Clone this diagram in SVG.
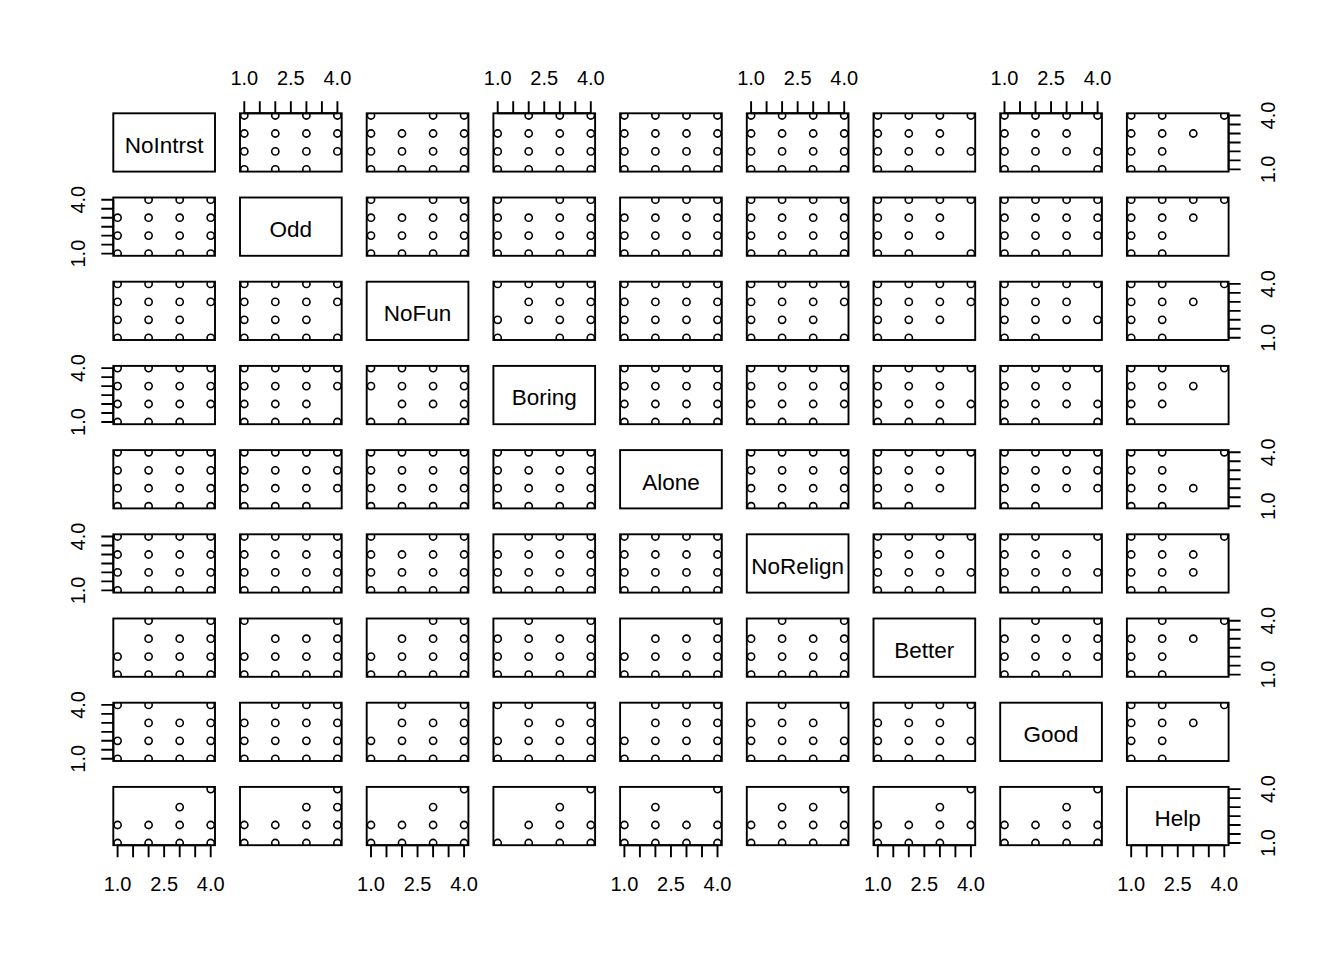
<svg xmlns="http://www.w3.org/2000/svg" xmlns:xlink="http://www.w3.org/1999/xlink" width="1344" height="960" viewBox="0 0 1344 960">
<style>
circle{fill:none;stroke:#000;stroke-width:1.6}
.b{fill:none;stroke:#000;stroke-width:1.9}
.t{fill:none;stroke:#000;stroke-width:1.9}
text{font-family:"Liberation Sans",Arial,sans-serif;fill:#000}
.ax{font-size:20px;text-anchor:middle}
.lb{font-size:22.5px;text-anchor:middle}
</style>
<defs>
<clipPath id="cl"><rect width="101.7" height="58.3"/></clipPath>
<g id="a1111"><circle cx="4.3" r="3.6"/><circle cx="35.3" r="3.6"/><circle cx="66.4" r="3.6"/><circle cx="97.4" r="3.6"/></g>
<g id="a1110"><circle cx="4.3" r="3.6"/><circle cx="35.3" r="3.6"/><circle cx="66.4" r="3.6"/></g>
<g id="a1101"><circle cx="4.3" r="3.6"/><circle cx="35.3" r="3.6"/><circle cx="97.4" r="3.6"/></g>
<g id="a1100"><circle cx="4.3" r="3.6"/><circle cx="35.3" r="3.6"/></g>
<g id="a1011"><circle cx="4.3" r="3.6"/><circle cx="66.4" r="3.6"/><circle cx="97.4" r="3.6"/></g>
<g id="a0111"><circle cx="35.3" r="3.6"/><circle cx="66.4" r="3.6"/><circle cx="97.4" r="3.6"/></g>
<g id="a1000"><circle cx="4.3" r="3.6"/></g>
<g id="a0101"><circle cx="35.3" r="3.6"/><circle cx="97.4" r="3.6"/></g>
<g id="a0001"><circle cx="97.4" r="3.6"/></g>
<g id="a0010"><circle cx="66.4" r="3.6"/></g>
<g id="a0011"><circle cx="66.4" r="3.6"/><circle cx="97.4" r="3.6"/></g>
<g id="a0110"><circle cx="35.3" r="3.6"/><circle cx="66.4" r="3.6"/></g>
<g id="a0100"><circle cx="35.3" r="3.6"/></g>
<g id="a1001"><circle cx="4.3" r="3.6"/><circle cx="97.4" r="3.6"/></g>
<g id="f"><use href="#a1111" y="2.2"/><use href="#a1111" y="20.2"/><use href="#a1111" y="38.1"/><use href="#a1111" y="56.1"/></g>
<path id="tt" class="t" d="M4.3 0H97.4M4.3 0v-12M19.8 0v-12M35.3 0v-12M50.85 0v-12M66.4 0v-12M81.9 0v-12M97.4 0v-12"/>
<path id="tb" class="t" d="M4.3 0H97.4M4.3 0v12M19.8 0v12M35.3 0v12M50.85 0v12M66.4 0v12M81.9 0v12M97.4 0v12"/>
<path id="tl" class="t" d="M0 2.2V56.1M0 2.2h-12M0 11.2h-12M0 20.2h-12M0 29.2h-12M0 38.1h-12M0 47.1h-12M0 56.1h-12"/>
<path id="tr" class="t" d="M0 2.2V56.1M0 2.2h12M0 11.2h12M0 20.2h12M0 29.2h12M0 38.1h12M0 47.1h12M0 56.1h12"/>
</defs>
<rect width="1344" height="960" fill="#fff"/>

<!-- Row 1 -->
<g id="d1" transform="translate(113.3 113.3)"><rect class="b" width="101.7" height="58.3"/><text class="lb" x="50.85" y="39.5">NoIntrst</text></g>
<g id="p12" transform="translate(240 113.3)"><g clip-path="url(#cl)"><use href="#a1111" y="2.2"/><use href="#a1111" y="20.2"/><use href="#a1111" y="38.1"/><use href="#a1110" y="56.1"/></g><rect class="b" width="101.7" height="58.3"/></g>
<g id="p13" transform="translate(366.7 113.3)"><g clip-path="url(#cl)"><use href="#a1011" y="2.2"/><use href="#a1111" y="20.2"/><use href="#a1111" y="38.1"/><use href="#a1111" y="56.1"/></g><rect class="b" width="101.7" height="58.3"/></g>
<g id="p14" transform="translate(493.4 113.3)"><g clip-path="url(#cl)"><use href="#a0111" y="2.2"/><use href="#a1111" y="20.2"/><use href="#a1111" y="38.1"/><use href="#a1111" y="56.1"/></g><rect class="b" width="101.7" height="58.3"/></g>
<g id="p15" transform="translate(620.1 113.3)"><g clip-path="url(#cl)"><use href="#f"/></g><rect class="b" width="101.7" height="58.3"/></g>
<g id="p16" transform="translate(746.8 113.3)"><g clip-path="url(#cl)"><use href="#f"/></g><rect class="b" width="101.7" height="58.3"/></g>
<g id="p17" transform="translate(873.5 113.3)"><g clip-path="url(#cl)"><use href="#a1111" y="2.2"/><use href="#a1110" y="20.2"/><use href="#a1111" y="38.1"/><use href="#a1100" y="56.1"/></g><rect class="b" width="101.7" height="58.3"/></g>
<g id="p18" transform="translate(1000.2 113.3)"><g clip-path="url(#cl)"><use href="#a1111" y="2.2"/><use href="#a1110" y="20.2"/><use href="#a1111" y="38.1"/><use href="#a1101" y="56.1"/></g><rect class="b" width="101.7" height="58.3"/></g>
<g id="p19" transform="translate(1126.9 113.3)"><g clip-path="url(#cl)"><use href="#a1101" y="2.2"/><use href="#a1110" y="20.2"/><use href="#a1100" y="38.1"/><use href="#a1100" y="56.1"/></g><rect class="b" width="101.7" height="58.3"/></g>

<!-- Row 2 -->
<g id="p21" transform="translate(113.3 197.5)"><g clip-path="url(#cl)"><use href="#a0111" y="2.2"/><use href="#a1111" y="20.2"/><use href="#a1111" y="38.1"/><use href="#a1111" y="56.1"/></g><rect class="b" width="101.7" height="58.3"/></g>
<g id="d2" transform="translate(240 197.5)"><rect class="b" width="101.7" height="58.3"/><text class="lb" x="50.85" y="39.5">Odd</text></g>
<g id="p23" transform="translate(366.7 197.5)"><g clip-path="url(#cl)"><use href="#a1011" y="2.2"/><use href="#a1111" y="20.2"/><use href="#a1111" y="38.1"/><use href="#a1111" y="56.1"/></g><rect class="b" width="101.7" height="58.3"/></g>
<g id="p24" transform="translate(493.4 197.5)"><g clip-path="url(#cl)"><use href="#a1011" y="2.2"/><use href="#a1111" y="20.2"/><use href="#a1111" y="38.1"/><use href="#a1111" y="56.1"/></g><rect class="b" width="101.7" height="58.3"/></g>
<g id="p25" transform="translate(620.1 197.5)"><g clip-path="url(#cl)"><use href="#a0111" y="2.2"/><use href="#a1111" y="20.2"/><use href="#a1111" y="38.1"/><use href="#a1111" y="56.1"/></g><rect class="b" width="101.7" height="58.3"/></g>
<g id="p26" transform="translate(746.8 197.5)"><g clip-path="url(#cl)"><use href="#f"/></g><rect class="b" width="101.7" height="58.3"/></g>
<g id="p27" transform="translate(873.5 197.5)"><g clip-path="url(#cl)"><use href="#a1111" y="2.2"/><use href="#a1110" y="20.2"/><use href="#a1110" y="38.1"/><use href="#a1101" y="56.1"/></g><rect class="b" width="101.7" height="58.3"/></g>
<g id="p28" transform="translate(1000.2 197.5)"><g clip-path="url(#cl)"><use href="#a1111" y="2.2"/><use href="#a1111" y="20.2"/><use href="#a1111" y="38.1"/><use href="#a1110" y="56.1"/></g><rect class="b" width="101.7" height="58.3"/></g>
<g id="p29" transform="translate(1126.9 197.5)"><g clip-path="url(#cl)"><use href="#a1111" y="2.2"/><use href="#a1110" y="20.2"/><use href="#a1100" y="38.1"/><use href="#a1100" y="56.1"/></g><rect class="b" width="101.7" height="58.3"/></g>

<!-- Row 3 -->
<g id="p31" transform="translate(113.3 281.7)"><g clip-path="url(#cl)"><use href="#a1111" y="2.2"/><use href="#a1111" y="20.2"/><use href="#a1110" y="38.1"/><use href="#a1111" y="56.1"/></g><rect class="b" width="101.7" height="58.3"/></g>
<g id="p32" transform="translate(240 281.7)"><g clip-path="url(#cl)"><use href="#a1111" y="2.2"/><use href="#a1111" y="20.2"/><use href="#a1110" y="38.1"/><use href="#a1111" y="56.1"/></g><rect class="b" width="101.7" height="58.3"/></g>
<g id="d3" transform="translate(366.7 281.7)"><rect class="b" width="101.7" height="58.3"/><text class="lb" x="50.85" y="39.5">NoFun</text></g>
<g id="p34" transform="translate(493.4 281.7)"><g clip-path="url(#cl)"><use href="#a1111" y="2.2"/><use href="#a0111" y="20.2"/><use href="#a1111" y="38.1"/><use href="#a1011" y="56.1"/></g><rect class="b" width="101.7" height="58.3"/></g>
<g id="p35" transform="translate(620.1 281.7)"><g clip-path="url(#cl)"><use href="#f"/></g><rect class="b" width="101.7" height="58.3"/></g>
<g id="p36" transform="translate(746.8 281.7)"><g clip-path="url(#cl)"><use href="#a1111" y="2.2"/><use href="#a1111" y="20.2"/><use href="#a1110" y="38.1"/><use href="#a1111" y="56.1"/></g><rect class="b" width="101.7" height="58.3"/></g>
<g id="p37" transform="translate(873.5 281.7)"><g clip-path="url(#cl)"><use href="#a1111" y="2.2"/><use href="#a1111" y="20.2"/><use href="#a1110" y="38.1"/><use href="#a1100" y="56.1"/></g><rect class="b" width="101.7" height="58.3"/></g>
<g id="p38" transform="translate(1000.2 281.7)"><g clip-path="url(#cl)"><use href="#a1111" y="2.2"/><use href="#a1110" y="20.2"/><use href="#a1111" y="38.1"/><use href="#a1100" y="56.1"/></g><rect class="b" width="101.7" height="58.3"/></g>
<g id="p39" transform="translate(1126.9 281.7)"><g clip-path="url(#cl)"><use href="#a1101" y="2.2"/><use href="#a1110" y="20.2"/><use href="#a1100" y="38.1"/><use href="#a1100" y="56.1"/></g><rect class="b" width="101.7" height="58.3"/></g>

<!-- Row 4 -->
<g id="p41" transform="translate(113.3 365.9)"><g clip-path="url(#cl)"><use href="#a1111" y="2.2"/><use href="#a1111" y="20.2"/><use href="#a1111" y="38.1"/><use href="#a1110" y="56.1"/></g><rect class="b" width="101.7" height="58.3"/></g>
<g id="p42" transform="translate(240 365.9)"><g clip-path="url(#cl)"><use href="#a1111" y="2.2"/><use href="#a1111" y="20.2"/><use href="#a1110" y="38.1"/><use href="#a1111" y="56.1"/></g><rect class="b" width="101.7" height="58.3"/></g>
<g id="p43" transform="translate(366.7 365.9)"><g clip-path="url(#cl)"><use href="#a1111" y="2.2"/><use href="#a1111" y="20.2"/><use href="#a0111" y="38.1"/><use href="#a1101" y="56.1"/></g><rect class="b" width="101.7" height="58.3"/></g>
<g id="d4" transform="translate(493.4 365.9)"><rect class="b" width="101.7" height="58.3"/><text class="lb" x="50.85" y="39.5">Boring</text></g>
<g id="p45" transform="translate(620.1 365.9)"><g clip-path="url(#cl)"><use href="#f"/></g><rect class="b" width="101.7" height="58.3"/></g>
<g id="p46" transform="translate(746.8 365.9)"><g clip-path="url(#cl)"><use href="#a1111" y="2.2"/><use href="#a1111" y="20.2"/><use href="#a1111" y="38.1"/><use href="#a1110" y="56.1"/></g><rect class="b" width="101.7" height="58.3"/></g>
<g id="p47" transform="translate(873.5 365.9)"><g clip-path="url(#cl)"><use href="#a1111" y="2.2"/><use href="#a1110" y="20.2"/><use href="#a1111" y="38.1"/><use href="#a1110" y="56.1"/></g><rect class="b" width="101.7" height="58.3"/></g>
<g id="p48" transform="translate(1000.2 365.9)"><g clip-path="url(#cl)"><use href="#a1111" y="2.2"/><use href="#a1110" y="20.2"/><use href="#a1111" y="38.1"/><use href="#a1101" y="56.1"/></g><rect class="b" width="101.7" height="58.3"/></g>
<g id="p49" transform="translate(1126.9 365.9)"><g clip-path="url(#cl)"><use href="#a1101" y="2.2"/><use href="#a1110" y="20.2"/><use href="#a1100" y="38.1"/><use href="#a1000" y="56.1"/></g><rect class="b" width="101.7" height="58.3"/></g>

<!-- Row 5 -->
<g id="p51" transform="translate(113.3 450.1)"><g clip-path="url(#cl)"><use href="#f"/></g><rect class="b" width="101.7" height="58.3"/></g>
<g id="p52" transform="translate(240 450.1)"><g clip-path="url(#cl)"><use href="#a1111" y="2.2"/><use href="#a1111" y="20.2"/><use href="#a1111" y="38.1"/><use href="#a1110" y="56.1"/></g><rect class="b" width="101.7" height="58.3"/></g>
<g id="p53" transform="translate(366.7 450.1)"><g clip-path="url(#cl)"><use href="#f"/></g><rect class="b" width="101.7" height="58.3"/></g>
<g id="p54" transform="translate(493.4 450.1)"><g clip-path="url(#cl)"><use href="#f"/></g><rect class="b" width="101.7" height="58.3"/></g>
<g id="d5" transform="translate(620.1 450.1)"><rect class="b" width="101.7" height="58.3"/><text class="lb" x="50.85" y="39.5">Alone</text></g>
<g id="p56" transform="translate(746.8 450.1)"><g clip-path="url(#cl)"><use href="#f"/></g><rect class="b" width="101.7" height="58.3"/></g>
<g id="p57" transform="translate(873.5 450.1)"><g clip-path="url(#cl)"><use href="#a1111" y="2.2"/><use href="#a1110" y="20.2"/><use href="#a1110" y="38.1"/><use href="#a1100" y="56.1"/></g><rect class="b" width="101.7" height="58.3"/></g>
<g id="p58" transform="translate(1000.2 450.1)"><g clip-path="url(#cl)"><use href="#a1111" y="2.2"/><use href="#a1111" y="20.2"/><use href="#a1111" y="38.1"/><use href="#a1100" y="56.1"/></g><rect class="b" width="101.7" height="58.3"/></g>
<g id="p59" transform="translate(1126.9 450.1)"><g clip-path="url(#cl)"><use href="#a1101" y="2.2"/><use href="#a1100" y="20.2"/><use href="#a1110" y="38.1"/><use href="#a1100" y="56.1"/></g><rect class="b" width="101.7" height="58.3"/></g>

<!-- Row 6 -->
<g id="p61" transform="translate(113.3 534.3)"><g clip-path="url(#cl)"><use href="#f"/></g><rect class="b" width="101.7" height="58.3"/></g>
<g id="p62" transform="translate(240 534.3)"><g clip-path="url(#cl)"><use href="#f"/></g><rect class="b" width="101.7" height="58.3"/></g>
<g id="p63" transform="translate(366.7 534.3)"><g clip-path="url(#cl)"><use href="#a1011" y="2.2"/><use href="#a1111" y="20.2"/><use href="#a1111" y="38.1"/><use href="#a1111" y="56.1"/></g><rect class="b" width="101.7" height="58.3"/></g>
<g id="p64" transform="translate(493.4 534.3)"><g clip-path="url(#cl)"><use href="#a0111" y="2.2"/><use href="#a1111" y="20.2"/><use href="#a1111" y="38.1"/><use href="#a1111" y="56.1"/></g><rect class="b" width="101.7" height="58.3"/></g>
<g id="p65" transform="translate(620.1 534.3)"><g clip-path="url(#cl)"><use href="#f"/></g><rect class="b" width="101.7" height="58.3"/></g>
<g id="d6" transform="translate(746.8 534.3)"><rect class="b" width="101.7" height="58.3"/><text class="lb" x="50.85" y="39.5">NoRelign</text></g>
<g id="p67" transform="translate(873.5 534.3)"><g clip-path="url(#cl)"><use href="#a1111" y="2.2"/><use href="#a1110" y="20.2"/><use href="#a1111" y="38.1"/><use href="#a1110" y="56.1"/></g><rect class="b" width="101.7" height="58.3"/></g>
<g id="p68" transform="translate(1000.2 534.3)"><g clip-path="url(#cl)"><use href="#a1101" y="2.2"/><use href="#a1110" y="20.2"/><use href="#a1111" y="38.1"/><use href="#a1110" y="56.1"/></g><rect class="b" width="101.7" height="58.3"/></g>
<g id="p69" transform="translate(1126.9 534.3)"><g clip-path="url(#cl)"><use href="#a1101" y="2.2"/><use href="#a1110" y="20.2"/><use href="#a1110" y="38.1"/><use href="#a1100" y="56.1"/></g><rect class="b" width="101.7" height="58.3"/></g>

<!-- Row 7 -->
<g id="p71" transform="translate(113.3 618.5)"><g clip-path="url(#cl)"><use href="#a0101" y="2.2"/><use href="#a0111" y="20.2"/><use href="#a1111" y="38.1"/><use href="#a1111" y="56.1"/></g><rect class="b" width="101.7" height="58.3"/></g>
<g id="p72" transform="translate(240 618.5)"><g clip-path="url(#cl)"><use href="#a1001" y="2.2"/><use href="#a0111" y="20.2"/><use href="#a1111" y="38.1"/><use href="#a1111" y="56.1"/></g><rect class="b" width="101.7" height="58.3"/></g>
<g id="p73" transform="translate(366.7 618.5)"><g clip-path="url(#cl)"><use href="#a0011" y="2.2"/><use href="#a0111" y="20.2"/><use href="#a1111" y="38.1"/><use href="#a1111" y="56.1"/></g><rect class="b" width="101.7" height="58.3"/></g>
<g id="p74" transform="translate(493.4 618.5)"><g clip-path="url(#cl)"><use href="#a0101" y="2.2"/><use href="#a1111" y="20.2"/><use href="#a1111" y="38.1"/><use href="#a1111" y="56.1"/></g><rect class="b" width="101.7" height="58.3"/></g>
<g id="p75" transform="translate(620.1 618.5)"><g clip-path="url(#cl)"><use href="#a0001" y="2.2"/><use href="#a0111" y="20.2"/><use href="#a1111" y="38.1"/><use href="#a1111" y="56.1"/></g><rect class="b" width="101.7" height="58.3"/></g>
<g id="p76" transform="translate(746.8 618.5)"><g clip-path="url(#cl)"><use href="#a0101" y="2.2"/><use href="#a1111" y="20.2"/><use href="#a1111" y="38.1"/><use href="#a1111" y="56.1"/></g><rect class="b" width="101.7" height="58.3"/></g>
<g id="d7" transform="translate(873.5 618.5)"><rect class="b" width="101.7" height="58.3"/><text class="lb" x="50.85" y="39.5">Better</text></g>
<g id="p78" transform="translate(1000.2 618.5)"><g clip-path="url(#cl)"><use href="#a0101" y="2.2"/><use href="#a1111" y="20.2"/><use href="#a1111" y="38.1"/><use href="#a1110" y="56.1"/></g><rect class="b" width="101.7" height="58.3"/></g>
<g id="p79" transform="translate(1126.9 618.5)"><g clip-path="url(#cl)"><use href="#a0101" y="2.2"/><use href="#a1110" y="20.2"/><use href="#a1100" y="38.1"/><use href="#a1100" y="56.1"/></g><rect class="b" width="101.7" height="58.3"/></g>

<!-- Row 8 -->
<g id="p81" transform="translate(113.3 702.7)"><g clip-path="url(#cl)"><use href="#a1101" y="2.2"/><use href="#a0111" y="20.2"/><use href="#a1111" y="38.1"/><use href="#a1111" y="56.1"/></g><rect class="b" width="101.7" height="58.3"/></g>
<g id="p82" transform="translate(240 702.7)"><g clip-path="url(#cl)"><use href="#a0111" y="2.2"/><use href="#a1111" y="20.2"/><use href="#a1111" y="38.1"/><use href="#a1111" y="56.1"/></g><rect class="b" width="101.7" height="58.3"/></g>
<g id="p83" transform="translate(366.7 702.7)"><g clip-path="url(#cl)"><use href="#a0101" y="2.2"/><use href="#a0111" y="20.2"/><use href="#a1111" y="38.1"/><use href="#a1111" y="56.1"/></g><rect class="b" width="101.7" height="58.3"/></g>
<g id="p84" transform="translate(493.4 702.7)"><g clip-path="url(#cl)"><use href="#a1101" y="2.2"/><use href="#a0111" y="20.2"/><use href="#a1111" y="38.1"/><use href="#a1111" y="56.1"/></g><rect class="b" width="101.7" height="58.3"/></g>
<g id="p85" transform="translate(620.1 702.7)"><g clip-path="url(#cl)"><use href="#a0111" y="2.2"/><use href="#a0111" y="20.2"/><use href="#a1111" y="38.1"/><use href="#a1111" y="56.1"/></g><rect class="b" width="101.7" height="58.3"/></g>
<g id="p86" transform="translate(746.8 702.7)"><g clip-path="url(#cl)"><use href="#a0101" y="2.2"/><use href="#a1110" y="20.2"/><use href="#a1111" y="38.1"/><use href="#a1111" y="56.1"/></g><rect class="b" width="101.7" height="58.3"/></g>
<g id="p87" transform="translate(873.5 702.7)"><g clip-path="url(#cl)"><use href="#a0111" y="2.2"/><use href="#a1110" y="20.2"/><use href="#a1111" y="38.1"/><use href="#a1110" y="56.1"/></g><rect class="b" width="101.7" height="58.3"/></g>
<g id="d8" transform="translate(1000.2 702.7)"><rect class="b" width="101.7" height="58.3"/><text class="lb" x="50.85" y="39.5">Good</text></g>
<g id="p89" transform="translate(1126.9 702.7)"><g clip-path="url(#cl)"><use href="#a1101" y="2.2"/><use href="#a1110" y="20.2"/><use href="#a1100" y="38.1"/><use href="#a1100" y="56.1"/></g><rect class="b" width="101.7" height="58.3"/></g>

<!-- Row 9 -->
<g id="p91" transform="translate(113.3 786.9)"><g clip-path="url(#cl)"><use href="#a0001" y="2.2"/><use href="#a0010" y="20.2"/><use href="#a1111" y="38.1"/><use href="#a1111" y="56.1"/></g><rect class="b" width="101.7" height="58.3"/></g>
<g id="p92" transform="translate(240 786.9)"><g clip-path="url(#cl)"><use href="#a0001" y="2.2"/><use href="#a0011" y="20.2"/><use href="#a1111" y="38.1"/><use href="#a1111" y="56.1"/></g><rect class="b" width="101.7" height="58.3"/></g>
<g id="p93" transform="translate(366.7 786.9)"><g clip-path="url(#cl)"><use href="#a0001" y="2.2"/><use href="#a0010" y="20.2"/><use href="#a1111" y="38.1"/><use href="#a1111" y="56.1"/></g><rect class="b" width="101.7" height="58.3"/></g>
<g id="p94" transform="translate(493.4 786.9)"><g clip-path="url(#cl)"><use href="#a0001" y="2.2"/><use href="#a0010" y="20.2"/><use href="#a0111" y="38.1"/><use href="#a1111" y="56.1"/></g><rect class="b" width="101.7" height="58.3"/></g>
<g id="p95" transform="translate(620.1 786.9)"><g clip-path="url(#cl)"><use href="#a0001" y="2.2"/><use href="#a0100" y="20.2"/><use href="#a1111" y="38.1"/><use href="#a1111" y="56.1"/></g><rect class="b" width="101.7" height="58.3"/></g>
<g id="p96" transform="translate(746.8 786.9)"><g clip-path="url(#cl)"><use href="#a0001" y="2.2"/><use href="#a0110" y="20.2"/><use href="#a1111" y="38.1"/><use href="#a1111" y="56.1"/></g><rect class="b" width="101.7" height="58.3"/></g>
<g id="p97" transform="translate(873.5 786.9)"><g clip-path="url(#cl)"><use href="#a0001" y="2.2"/><use href="#a0010" y="20.2"/><use href="#a1111" y="38.1"/><use href="#a1110" y="56.1"/></g><rect class="b" width="101.7" height="58.3"/></g>
<g id="p98" transform="translate(1000.2 786.9)"><g clip-path="url(#cl)"><use href="#a0001" y="2.2"/><use href="#a0010" y="20.2"/><use href="#a1111" y="38.1"/><use href="#a1111" y="56.1"/></g><rect class="b" width="101.7" height="58.3"/></g>
<g id="d9" transform="translate(1126.9 786.9)"><rect class="b" width="101.7" height="58.3"/><text class="lb" x="50.85" y="39.5">Help</text></g>

<!-- Axes -->
<g id="axes">
<use href="#tt" x="240" y="113.3"/><use href="#tt" x="493.4" y="113.3"/><use href="#tt" x="746.8" y="113.3"/><use href="#tt" x="1000.2" y="113.3"/>
<use href="#tb" x="113.3" y="845.2"/><use href="#tb" x="366.7" y="845.2"/><use href="#tb" x="620.1" y="845.2"/><use href="#tb" x="873.5" y="845.2"/><use href="#tb" x="1126.9" y="845.2"/>
<use href="#tl" x="113.3" y="197.5"/><use href="#tl" x="113.3" y="365.9"/><use href="#tl" x="113.3" y="534.3"/><use href="#tl" x="113.3" y="702.7"/>
<use href="#tr" x="1228.6" y="113.3"/><use href="#tr" x="1228.6" y="281.7"/><use href="#tr" x="1228.6" y="450.1"/><use href="#tr" x="1228.6" y="618.5"/><use href="#tr" x="1228.6" y="786.9"/>
<g class="ax">
<text x="244.3" y="84.5">1.0</text><text x="290.85" y="84.5">2.5</text><text x="337.4" y="84.5">4.0</text>
<text x="497.7" y="84.5">1.0</text><text x="544.25" y="84.5">2.5</text><text x="590.8" y="84.5">4.0</text>
<text x="751.1" y="84.5">1.0</text><text x="797.65" y="84.5">2.5</text><text x="844.2" y="84.5">4.0</text>
<text x="1004.5" y="84.5">1.0</text><text x="1051.05" y="84.5">2.5</text><text x="1097.6" y="84.5">4.0</text>
<text x="117.6" y="891">1.0</text><text x="164.15" y="891">2.5</text><text x="210.7" y="891">4.0</text>
<text x="371" y="891">1.0</text><text x="417.55" y="891">2.5</text><text x="464.1" y="891">4.0</text>
<text x="624.4" y="891">1.0</text><text x="670.95" y="891">2.5</text><text x="717.5" y="891">4.0</text>
<text x="877.8" y="891">1.0</text><text x="924.35" y="891">2.5</text><text x="970.9" y="891">4.0</text>
<text x="1131.2" y="891">1.0</text><text x="1177.75" y="891">2.5</text><text x="1224.3" y="891">4.0</text>
<text transform="translate(84.5 199.7) rotate(-90)">4.0</text><text transform="translate(84.5 253.6) rotate(-90)">1.0</text>
<text transform="translate(84.5 368.1) rotate(-90)">4.0</text><text transform="translate(84.5 422) rotate(-90)">1.0</text>
<text transform="translate(84.5 536.5) rotate(-90)">4.0</text><text transform="translate(84.5 590.4) rotate(-90)">1.0</text>
<text transform="translate(84.5 704.9) rotate(-90)">4.0</text><text transform="translate(84.5 758.8) rotate(-90)">1.0</text>
<text transform="translate(1275 115.5) rotate(-90)">4.0</text><text transform="translate(1275 169.4) rotate(-90)">1.0</text>
<text transform="translate(1275 283.9) rotate(-90)">4.0</text><text transform="translate(1275 337.8) rotate(-90)">1.0</text>
<text transform="translate(1275 452.3) rotate(-90)">4.0</text><text transform="translate(1275 506.2) rotate(-90)">1.0</text>
<text transform="translate(1275 620.7) rotate(-90)">4.0</text><text transform="translate(1275 674.6) rotate(-90)">1.0</text>
<text transform="translate(1275 789.1) rotate(-90)">4.0</text><text transform="translate(1275 843) rotate(-90)">1.0</text>
</g>
</g>
</svg>
